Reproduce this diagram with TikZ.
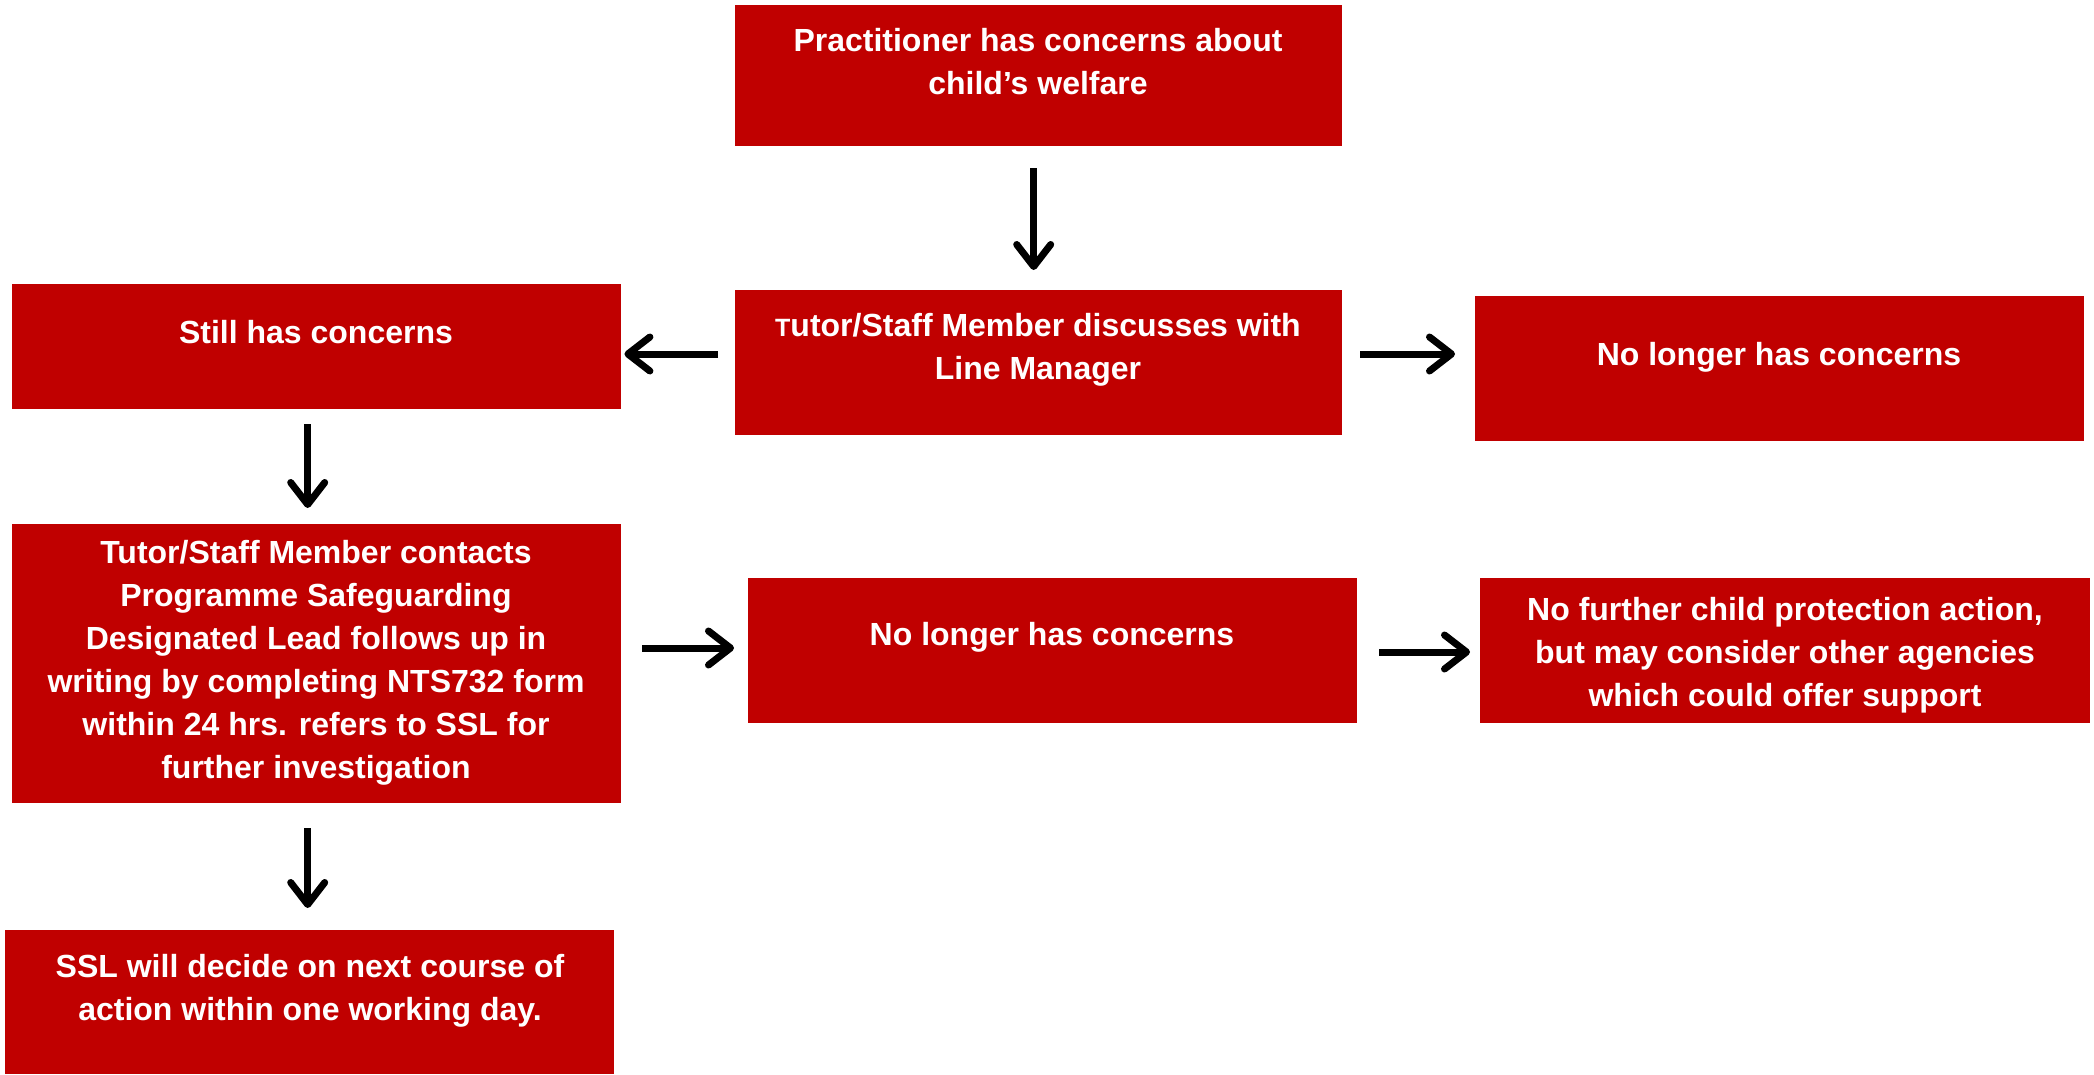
\documentclass[tikz,border=0pt]{standalone}
\usepackage{fontspec}
\setmainfont{Liberation Sans}
\usetikzlibrary{arrows.meta}
\definecolor{boxred}{HTML}{C00000}
\begin{document}
\begin{tikzpicture}[x=1pt,y=-1pt,
  box/.style={fill=boxred, draw=none, inner sep=0pt, anchor=north west},
  txt/.style={text=white, font=\fontsize{32}{43}\selectfont\bfseries, align=center, inner sep=0pt},
  arr/.style={line width=7pt, -{Straight Barb[length=22pt,width=34pt,round]}}]
\useasboundingbox (0,0) rectangle (2094,1074);
\fill[white] (0,0) rectangle (2094,1074);

% boxes
\node[box, minimum width=607pt, minimum height=141pt] (b1) at (735,5) {};
\node[box, minimum width=607pt, minimum height=145pt] (b2) at (735,290) {};
\node[box, minimum width=609pt, minimum height=125pt] (b3) at (12,284) {};
\node[box, minimum width=609pt, minimum height=145pt] (b4) at (1475,296) {};
\node[box, minimum width=609pt, minimum height=279pt] (b5) at (12,524) {};
\node[box, minimum width=609pt, minimum height=145pt] (b6) at (748,578) {};
\node[box, minimum width=610pt, minimum height=145pt] (b7) at (1480,578) {};
\node[box, minimum width=609pt, minimum height=144pt] (b8) at (5,930) {};

% texts
\node[txt] (t1) at (1038,62) {Practitioner has concerns about\\child’s welfare};
\node[txt] (t2) at (1038,350) {{\fontsize{25}{43}\selectfont T}utor/Staff Member discusses with\\Line Manager};
\node[txt] (t3) at (316,332) {Still has concerns};
\node[txt] (t4) at (1779,357) {No longer has concerns};
\node[txt] (t5) at (316,663) {Tutor/Staff Member contacts\\Programme Safeguarding\\Designated Lead follows up in\\writing by completing NTS732 form\\within 24 hrs. refers to SSL for\\further investigation};
\node[txt] (t6) at (1052,637) {No longer has concerns};
\node[txt] (t7) at (1785,655) {No further child protection action,\\but may consider other agencies\\which could offer support};
\node[txt] (t8) at (310,991) {SSL will decide on next course of\\action within one working day.};

% helper coordinates
\coordinate (yA) at (0,354);
\coordinate (yB) at (0,648);
\coordinate (yC) at (0,652);

% arrows
\draw[arr, shorten <=22pt, shorten >=20pt] ([xshift=-5pt]b1.south) -- ([xshift=-5pt]b2.north);
\draw[arr, shorten <=17pt, shorten >=3pt] (b2.west |- yA) -- (b3.east |- yA);
\draw[arr, shorten <=18pt, shorten >=20pt] (b2.east |- yA) -- (b4.west |- yA);
\draw[arr, shorten <=15pt, shorten >=16pt] ([xshift=-9pt]b3.south) -- ([xshift=-9pt]b5.north);
\draw[arr, shorten <=21pt, shorten >=14pt] (b5.east |- yB) -- (b6.west |- yB);
\draw[arr, shorten <=22pt, shorten >=10pt] (b6.east |- yC) -- (b7.west |- yC);
\draw[arr, shorten <=25pt, shorten >=22pt] ([xshift=-9pt]b5.south) -- ([xshift=-9pt]b5.south |- b8.north);
\end{tikzpicture}
\end{document}
